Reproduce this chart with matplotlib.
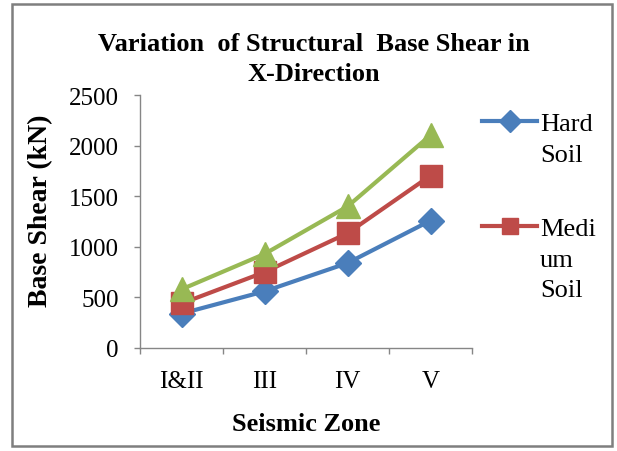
import matplotlib.pyplot as plt
from matplotlib.lines import Line2D
from matplotlib.patches import Rectangle

# base shear (kN) for each seismic zone
zones = ["I&II", "III", "IV", "V"]
hard_soil = [340, 560, 840, 1260]
medium_soil = [440, 750, 1135, 1705]
soft_soil = [580, 930, 1400, 2105]

yticks = [0, 500, 1000, 1500, 2000, 2500]

plt.rcParams['font.family'] = ['Liberation Serif', 'DejaVu Serif']

fig = plt.figure(figsize=(6.17, 4.52), dpi=100)
ax = fig.add_axes([0.227, 0.228, 0.538, 0.559])

x = range(len(zones))
l1, = ax.plot(x, hard_soil, color='#4A7EBB', lw=3, marker='D', ms=13, label="Hard\nSoil")
l2, = ax.plot(x, medium_soil, color='#BE4B48', lw=3, marker='s', ms=16, label="Medi\num\nSoil")
l3, = ax.plot(x, soft_soil, color='#98B954', lw=3, marker='^', ms=17, label="Soft Soil")

ax.set_xlim(-0.5, 3.5)
ax.set_ylim(0, 2500)
ax.set_yticks(yticks)
ax.set_xticks(list(x))
ax.set_xticklabels(zones)
ax.set_xticks([-0.5, 0.5, 1.5, 2.5, 3.5], minor=True)
ax.tick_params(axis='x', which='major', length=0, pad=16, labelsize=18)
ax.tick_params(axis='x', which='minor', length=4.5, color='#868686', width=1)
ax.tick_params(axis='y', length=4.5, color='#868686', width=1, pad=11, labelsize=18)

for side in ['top', 'right']:
    ax.spines[side].set_visible(False)
for side in ['left', 'bottom']:
    ax.spines[side].set_color('#868686')
    ax.spines[side].set_linewidth(1)

ax.set_ylabel("Base Shear (kN)", fontsize=20, fontweight='bold')
ax.yaxis.set_label_coords(-0.262, 0.545)
ax.set_xlabel("Seismic Zone", fontsize=19, fontweight='bold', labelpad=14)
fig.text(0.508, 0.868, "Variation  of Structural  Base Shear in\nX-Direction",
         ha='center', va='center', fontsize=19, fontweight='bold', linespacing=1.42)

# legend keys drawn by hand so the marker sits on the first text line;
# only the first two series fit in the box
legend_sizes = {l1: 11, l2: 12}
for line, ykey in [(l1, 0.730), (l2, 0.498)]:
    fig.add_artist(Line2D([0.781, 0.870], [ykey, ykey], transform=fig.transFigure,
                          color=line.get_color(), lw=3))
    fig.add_artist(Line2D([0.826], [ykey], transform=fig.transFigure, color=line.get_color(),
                          marker=line.get_marker(), ms=legend_sizes[line]))
    fig.text(0.875, ykey + 0.018, line.get_label(), ha='left', va='top',
             fontsize=19, linespacing=1.52)

# outer chart border
fig.patches.append(Rectangle((0.02, 0.01), 0.972, 0.978, transform=fig.transFigure,
                             fill=False, edgecolor='#7F7F7F', lw=1.8))

fig.savefig("out.png", dpi=100)
